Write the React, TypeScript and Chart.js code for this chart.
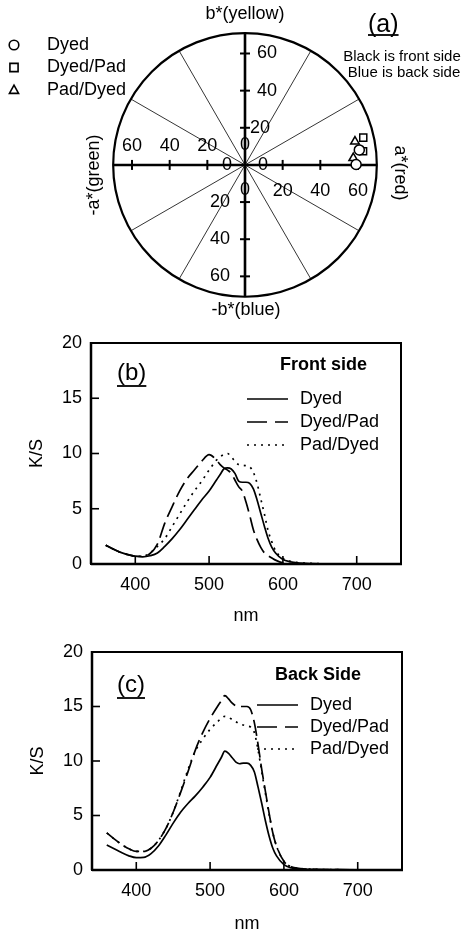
import React, { useEffect, useRef } from 'react';
import { Chart, registerables } from 'chart.js';
Chart.register(...registerables);

const FONT = 'Arial, "Liberation Sans", Helvetica, sans-serif';

// ---------- Panel (a): CIELAB a*/b* diagram ----------
const polarSeries = ['Dyed', 'Dyed/Pad', 'Pad/Dyed'];
const dyedA = [59.0, 60.7];
const dyedB = [0.2, 8.1];
const dyedPadA = [62.7, 62.8];
const dyedPadB = [7.4, 14.7];
const padDyedA = [57.5, 58.4];
const padDyedB = [3.7, 12.6];
const polarTickValues = [20, 40, 60];
const polarOuter = 70;
const spokeAngles = [30, 60, 120, 150];

// ---------- Panels (b) and (c): K/S spectra ----------
const wavelengths = [360, 370, 380, 390, 400, 410, 420, 430, 440, 450, 460, 470, 480, 490, 500, 510,
  515, 520, 525, 530, 535, 540, 545, 550, 555, 560, 565, 570, 575, 580, 585, 590,
  600, 610, 620, 640, 660, 700, 750];
const seriesNames = ['Dyed', 'Dyed/Pad', 'Pad/Dyed'];

const frontDyed = [1.7, 1.35, 1.05, 0.85, 0.7, 0.65, 0.75, 1.0, 1.6, 2.3, 3.1, 4.0, 4.9, 5.8, 6.6, 7.6,
  8.1, 8.6, 8.7, 8.6, 8.2, 7.5, 7.4, 7.4, 7.3, 6.8, 5.8, 4.6, 3.4, 2.3, 1.5, 1.0,
  0.4, 0.2, 0.1, 0.04, 0.02, 0, 0];
const frontDyedPad = [1.7, 1.35, 1.05, 0.85, 0.7, 0.7, 0.95, 1.8, 3.7, 5.2, 6.6, 7.7, 8.5, 9.3, 9.9, 9.4,
  9.0, 8.7, 8.5, 8.2, 7.6, 7.0, 6.6, 5.6, 4.4, 3.1, 2.2, 1.5, 1.0, 0.75, 0.55, 0.35,
  0.1, 0.05, 0.02, 0, 0, 0, 0];
const frontPadDyed = [1.7, 1.35, 1.05, 0.85, 0.7, 0.7, 1.0, 1.6, 2.3, 3.4, 4.5, 5.6, 6.6, 7.5, 8.5, 9.4,
  9.7, 9.9, 10.0, 9.7, 9.3, 9.0, 8.95, 8.9, 8.8, 8.3, 7.3, 5.9, 4.5, 3.0, 2.0, 1.2,
  0.5, 0.25, 0.12, 0.05, 0.02, 0, 0];

const backDyed = [2.3, 1.95, 1.6, 1.3, 1.13, 1.15, 1.5, 2.2, 3.2, 4.3, 5.3, 6.1, 6.8, 7.6, 8.5, 9.7,
  10.3, 10.9, 10.7, 10.3, 9.9, 9.75, 9.8, 9.8, 9.6, 9.0, 7.6, 6.1, 4.5, 3.1, 2.0, 1.3,
  0.5, 0.2, 0.1, 0.05, 0.03, 0.01, 0];
const backDyedPad = [3.4, 2.85, 2.35, 1.95, 1.7, 1.7, 2.0, 2.7, 3.8, 5.3, 7.1, 9.0, 11.0, 12.6, 13.9, 15.0,
  15.5, 16.0, 15.7, 15.3, 15.05, 15.0, 15.0, 15.0, 14.7, 13.5, 11.5, 9.2, 7.2, 5.2, 3.4, 2.2,
  0.8, 0.3, 0.15, 0.07, 0.04, 0.01, 0];
const backPadDyed = [3.4, 2.85, 2.35, 1.95, 1.7, 1.7, 2.0, 2.7, 3.8, 5.3, 7.2, 9.2, 10.9, 12.0, 12.9, 13.6,
  13.9, 14.1, 14.0, 13.8, 13.6, 13.4, 13.3, 13.2, 13.1, 12.6, 11.0, 9.0, 7.0, 5.1, 3.4, 2.2,
  0.8, 0.3, 0.15, 0.07, 0.04, 0.01, 0];

const xTickValues = [400, 500, 600, 700];
const yTickValues = [0, 5, 10, 15, 20];

const lineDashes: number[][] = [[], [16, 6], [2, 5]];

// ---------- helpers ----------
function drawText(ctx: CanvasRenderingContext2D, s: string, x: number, y: number, size: number,
  align: CanvasTextAlign = 'center', rot = 0, weight = 'normal') {
  ctx.save();
  ctx.translate(x, y);
  ctx.rotate(rot);
  ctx.font = `${weight} ${size}px ${FONT}`;
  ctx.fillStyle = '#000';
  ctx.textAlign = align;
  ctx.textBaseline = 'middle';
  ctx.fillText(s, 0, 0);
  ctx.restore();
}

function line(ctx: CanvasRenderingContext2D, x1: number, y1: number, x2: number, y2: number) {
  ctx.beginPath();
  ctx.moveTo(x1, y1);
  ctx.lineTo(x2, y2);
  ctx.stroke();
}

function marker(ctx: CanvasRenderingContext2D, style: string, x: number, y: number, r: number) {
  ctx.beginPath();
  if (style === 'circle') ctx.arc(x, y, r, 0, Math.PI * 2);
  else if (style === 'rect') ctx.rect(x - r * 0.85, y - r * 0.85, r * 1.7, r * 1.7);
  else {
    ctx.moveTo(x, y - r);
    ctx.lineTo(x + r * 0.95, y + r * 0.7);
    ctx.lineTo(x - r * 0.95, y + r * 0.7);
    ctx.closePath();
  }
  ctx.fillStyle = '#fff';
  ctx.fill();
  ctx.stroke();
}

const pointStyles = ['circle', 'rect', 'triangle'];

const polarPlugin = {
  id: 'polarGrid',
  beforeDatasetsDraw(chart: any) {
    const { ctx, scales: { x, y } } = chart;
    const cx = x.getPixelForValue(0);
    const cy = y.getPixelForValue(0);
    const r = x.getPixelForValue(polarOuter) - cx;
    ctx.save();
    ctx.strokeStyle = '#000';
    // spokes
    ctx.lineWidth = 0.8;
    spokeAngles.forEach((deg) => {
      const t = (deg * Math.PI) / 180;
      line(ctx, cx - r * Math.cos(t), cy + r * Math.sin(t), cx + r * Math.cos(t), cy - r * Math.sin(t));
    });
    // outer circle
    ctx.lineWidth = 2.2;
    ctx.beginPath();
    ctx.arc(cx, cy, r, 0, Math.PI * 2);
    ctx.stroke();
    // axes
    ctx.lineWidth = 2.6;
    line(ctx, cx - r, cy, cx + r, cy);
    line(ctx, cx, cy - r, cx, cy + r);
    // ticks
    ctx.lineWidth = 2;
    polarTickValues.forEach((v) => {
      [-1, 1].forEach((s) => {
        const px = x.getPixelForValue(s * v);
        line(ctx, px, cy - 5, px, cy + 5);
        const py = y.getPixelForValue(s * v);
        line(ctx, cx - 5, py, cx + 5, py);
      });
    });
    // tick labels
    polarTickValues.forEach((v) => {
      drawText(ctx, String(v), x.getPixelForValue(-v), cy - 19, 18);
      drawText(ctx, String(v), x.getPixelForValue(v), cy + 26, 18);
      drawText(ctx, String(v), cx + (v === 20 ? 15 : 22), y.getPixelForValue(v), 18);
      drawText(ctx, String(v), cx - 25, y.getPixelForValue(-v), 18);
    });
    drawText(ctx, '0', cx, cy - 20, 18);
    drawText(ctx, '0', cx, cy + 25, 18);
    drawText(ctx, '0', cx - 18, cy, 18);
    drawText(ctx, '0', cx + 18, cy, 18);
    // axis titles
    drawText(ctx, 'b*(yellow)', cx, cy - r - 19, 18);
    drawText(ctx, '-b*(blue)', cx + 1, cy + r + 13, 18);
    drawText(ctx, '-a*(green)', cx - r - 19, cy + 10, 18, 'center', -Math.PI / 2);
    drawText(ctx, 'a*(red)', cx + r + 23, cy + 8, 18, 'center', Math.PI / 2);
    // legend
    ctx.lineWidth = 1.6;
    polarSeries.forEach((name, i) => {
      const ly = 45 + i * 22.5;
      marker(ctx, pointStyles[i], 14, ly, 4.8);
      drawText(ctx, name, 47, ly, 18, 'left');
    });
    // panel label and notes
    drawText(ctx, '(a)', 368, 25, 25, 'left');
    ctx.font = `25px ${FONT}`;
    const w = ctx.measureText('(a)').width;
    ctx.lineWidth = 1.8;
    line(ctx, 368, 35, 368 + w, 35);
    drawText(ctx, 'Black is front side', 402, 57, 15);
    drawText(ctx, 'Blue is back side', 404, 73, 15);
    ctx.restore();
  },
};

function polarConfig(): any {
  const pts = (a: number[], b: number[]) => a.map((v, i) => ({ x: v, y: b[i] }));
  const sets = [pts(dyedA, dyedB), pts(dyedPadA, dyedPadB), pts(padDyedA, padDyedB)];
  return {
    type: 'scatter',
    data: {
      datasets: sets.map((d, i) => ({
        label: polarSeries[i],
        data: d,
        pointStyle: pointStyles[i],
        pointRadius: 5,
        pointBackgroundColor: '#fff',
        pointBorderColor: '#000',
        pointBorderWidth: 1.5,
        showLine: false,
      })),
    },
    options: {
      responsive: false,
      animation: false,
      devicePixelRatio: 1,
      layout: { padding: { left: 94.35, right: 69.35, top: 16.35, bottom: 2.35 } },
      scales: {
        x: { type: 'linear', min: -80, max: 80, display: false },
        y: { type: 'linear', min: -80, max: 80, display: false },
      },
      plugins: { legend: { display: false }, tooltip: { enabled: false } },
    },
    plugins: [polarPlugin],
  };
}

interface SpectraGeom {
  series: number[][];
  heading: string;
  panel: string;
  padTop: number;
  padRight: number;
  yWidth: number;
  xHeight: number;
  yTitlePad: number;
  xTitlePad: number;
  headX: number;
  headY: number;
  panelY: number;
  legLineX: number;
  legTextX: number;
  legY: number[];
}

function framePlugin(g: SpectraGeom) {
  return {
    id: 'frame',
    afterDraw(chart: any) {
      const { ctx, chartArea: { left, right, top, bottom }, scales: { x, y } } = chart;
      ctx.save();
      ctx.strokeStyle = '#000';
      ctx.lineWidth = 2;
      ctx.strokeRect(left, top, right - left, bottom - top);
      ctx.lineWidth = 2.5;
      line(ctx, left, bottom, right + 1, bottom);
      line(ctx, left, top - 1, left, bottom);
      ctx.lineWidth = 1.6;
      xTickValues.forEach((v) => {
        const px = x.getPixelForValue(v);
        line(ctx, px, bottom, px, bottom - 8);
      });
      yTickValues.slice(1, -1).forEach((v) => {
        const py = y.getPixelForValue(v);
        line(ctx, left, py, left + 8, py);
      });
      // panel label
      drawText(ctx, g.panel, 117, g.panelY, 24, 'left');
      ctx.font = `24px ${FONT}`;
      const w = ctx.measureText(g.panel).width;
      ctx.lineWidth = 1.8;
      line(ctx, 117, g.panelY + 13, 117 + w, g.panelY + 13);
      // legend
      drawText(ctx, g.heading, g.headX, g.headY, 18, 'left', 0, 'bold');
      seriesNames.forEach((name, i) => {
        const ly = g.legY[i];
        ctx.lineWidth = 1.6;
        ctx.setLineDash(i === 1 ? [20, 8] : lineDashes[i]);
        line(ctx, g.legLineX, ly, g.legLineX + 41, ly);
        ctx.setLineDash([]);
        drawText(ctx, name, g.legTextX, ly, 18, 'left');
      });
      ctx.restore();
    },
  };
}

function spectraConfig(g: SpectraGeom): any {
  const font = { family: FONT, size: 18 };
  return {
    type: 'line',
    data: {
      datasets: g.series.map((vals, i) => ({
        label: seriesNames[i],
        data: wavelengths.map((w, k) => ({ x: w, y: vals[k] })),
        borderColor: '#000',
        borderWidth: 1.7,
        borderDash: lineDashes[i],
        pointRadius: 0,
        fill: false,
        cubicInterpolationMode: 'monotone',
      })),
    },
    options: {
      responsive: false,
      animation: false,
      devicePixelRatio: 1,
      layout: { padding: { left: 0, top: g.padTop, right: g.padRight, bottom: 0 } },
      scales: {
        x: {
          type: 'linear',
          min: 340,
          max: 760,
          grid: { display: false, drawTicks: false },
          border: { display: false },
          afterBuildTicks: (s: any) => { s.ticks = xTickValues.map((v) => ({ value: v })); },
          afterFit: (s: any) => { s.height = g.xHeight; },
          ticks: { font, color: '#000', padding: 10, maxRotation: 0, autoSkip: false },
          title: { display: true, text: 'nm', font, color: '#000', padding: { top: 0, bottom: g.xTitlePad } },
        },
        y: {
          type: 'linear',
          min: 0,
          max: 20,
          grid: { display: false, drawTicks: false },
          border: { display: false },
          afterBuildTicks: (s: any) => { s.ticks = yTickValues.map((v) => ({ value: v })); },
          afterFit: (s: any) => { s.width = g.yWidth; },
          ticks: { font, color: '#000', padding: 9 },
          title: { display: true, text: 'K/S', font, color: '#000', padding: { top: g.yTitlePad, bottom: 0 } },
        },
      },
      plugins: { legend: { display: false }, tooltip: { enabled: false } },
    },
    plugins: [framePlugin(g)],
  };
}

function ChartCanvas({ top, height, build }: { top: number; height: number; build: () => any }) {
  const ref = useRef<HTMLCanvasElement>(null);
  useEffect(() => {
    const chart = new Chart(ref.current as HTMLCanvasElement, build());
    return () => chart.destroy();
  }, []);
  return (
    <canvas
      ref={ref}
      width={465}
      height={height}
      style={{ position: 'absolute', left: 0, top, width: 465, height, display: 'block' }}
    />
  );
}

const frontGeom: SpectraGeom = {
  series: [frontDyed, frontDyedPad, frontPadDyed],
  heading: 'Front side',
  panel: '(b)',
  padTop: 23,
  padRight: 64,
  yWidth: 91,
  xHeight: 66,
  yTitlePad: 26,
  xTitlePad: 3,
  headX: 280,
  headY: 45,
  panelY: 53,
  legLineX: 247,
  legTextX: 300,
  legY: [79, 102, 125],
};

const backGeom: SpectraGeom = {
  series: [backDyed, backDyedPad, backPadDyed],
  heading: 'Back Side',
  panel: '(c)',
  padTop: 22,
  padRight: 63,
  yWidth: 92,
  xHeight: 66,
  yTitlePad: 27,
  xTitlePad: 1,
  headX: 275,
  headY: 45,
  panelY: 55,
  legLineX: 257,
  legTextX: 310,
  legY: [75, 97, 119],
};

export default function App() {
  return (
    <div style={{ position: 'absolute', left: 0, top: 0, width: 465, height: 936, background: '#fff' }}>
      <ChartCanvas top={0} height={320} build={polarConfig} />
      <ChartCanvas top={320} height={310} build={() => spectraConfig(frontGeom)} />
      <ChartCanvas top={630} height={306} build={() => spectraConfig(backGeom)} />
    </div>
  );
}
